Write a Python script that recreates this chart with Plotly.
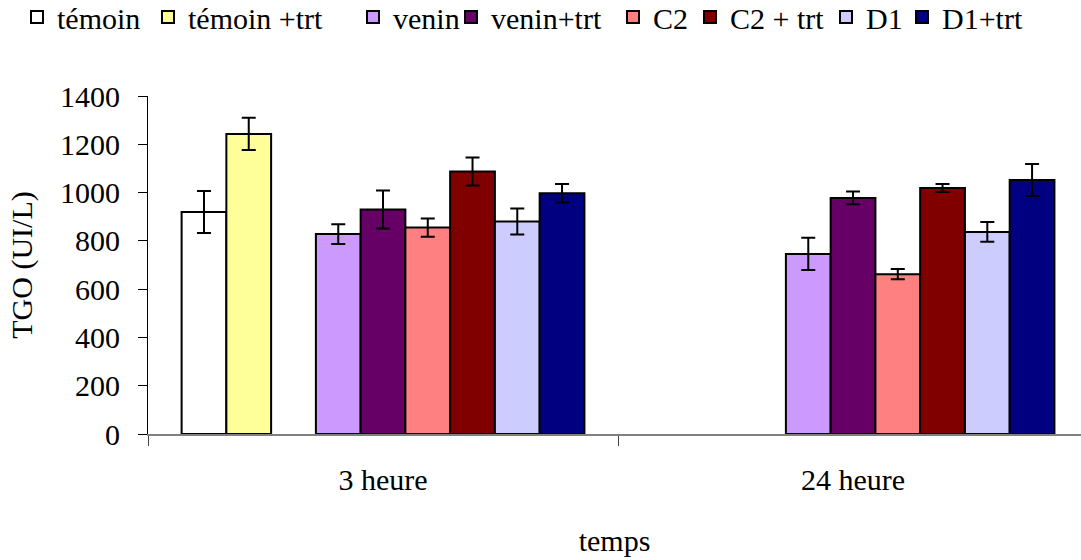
import plotly.graph_objects as go

# Sampling times (x categories)
temps = ["3 heure", "24 heure"]

# Series names, in legend order (" " is an empty spacer series)
series_names = ["témoin", "témoin +trt", " ", "venin", "venin+trt",
                "C2", "C2 + trt", "D1", "D1+trt"]

# Mean TGO (UI/L) per series at 3 h and 24 h
temoin = [920, None]
temoin_trt = [1243, None]
spacer = [None, None]
venin = [828, 746]
venin_trt = [930, 978]
c2 = [855, 662]
c2_trt = [1087, 1019]
d1 = [880, 837]
d1_trt = [997, 1052]

# Error bar half-widths
err_temoin = [87, 0]
err_temoin_trt = [67, 0]
err_spacer = [0, 0]
err_venin = [41, 67]
err_venin_trt = [79, 26]
err_c2 = [38, 21]
err_c2_trt = [58, 17]
err_d1 = [54, 41]
err_d1_trt = [38, 66]

values = [temoin, temoin_trt, spacer, venin, venin_trt, c2, c2_trt, d1, d1_trt]
errors = [err_temoin, err_temoin_trt, err_spacer, err_venin, err_venin_trt,
          err_c2, err_c2_trt, err_d1, err_d1_trt]
colors = ["#FFFFFF", "#FFFF99", "rgba(0,0,0,0)", "#CC99FF", "#660066",
          "#FF8080", "#800000", "#CCCCFF", "#000080"]

# Left pixel position of each legend entry along the top line
legend_left_px = [17, 148, None, 353, 451, 613, 690, 826, 902]

FONT = "Liberation Serif, Times New Roman, serif"
FS = 30
W, H = 1081, 560

fig = go.Figure()
legend_layouts = {}
k = 0
for name, vals, errs, col, lx in zip(series_names, values, errors, colors,
                                      legend_left_px):
    is_spacer = name.strip() == ""
    legend_id = None
    if not is_spacer:
        k += 1
        legend_id = "legend" if k == 1 else f"legend{k}"
        legend_layouts[legend_id] = dict(
            orientation="h", xref="container", yref="container",
            x=lx / W, xanchor="left", y=1 - 17 / H, yanchor="middle",
            font=dict(family=FONT, size=FS, color="black"),
            itemwidth=30, bgcolor="rgba(0,0,0,0)", borderwidth=0,
        )
    fig.add_trace(go.Bar(
        x=temps,
        y=vals,
        name=name,
        showlegend=not is_spacer,
        legend=legend_id if legend_id else "legend",
        marker=dict(color=col,
                    line=dict(color="rgba(0,0,0,0)" if is_spacer else "black",
                              width=2)),
        error_y=dict(type="data", array=errs, visible=not is_spacer,
                     color="black", thickness=2, width=7),
    ))

fig.update_layout(
    width=W, height=H,
    margin=dict(l=148, r=0, t=96, b=126),
    paper_bgcolor="white", plot_bgcolor="white",
    barmode="group", bargap=0.143, bargroupgap=0,
    font=dict(family=FONT, size=FS, color="black"),
    showlegend=True,
    xaxis=dict(
        type="category", range=[-0.5, 1.485],
        showline=True, linecolor="#808080", linewidth=2,
        ticks="outside", tickson="boundaries", ticklen=10,
        tickcolor="#404040", tickwidth=1,
        ticklabelstandoff=18,
        showgrid=False, zeroline=False,
        tickfont=dict(family=FONT, size=FS, color="black"),
        title=dict(text="temps", standoff=35,
                   font=dict(family=FONT, size=FS, color="black")),
    ),
    yaxis=dict(
        range=[0, 1400], tickvals=[0, 200, 400, 600, 800, 1000, 1200, 1400],
        showline=True, linecolor="black", linewidth=1,
        ticks="outside", ticklen=9, tickcolor="black", tickwidth=1,
        ticklabelstandoff=12,
        showgrid=False, zeroline=False,
        tickfont=dict(family=FONT, size=FS, color="black"),
        title=dict(text="TGO (UI/L)", standoff=18,
                   font=dict(family=FONT, size=FS, color="black")),
    ),
)
fig.update_layout(**legend_layouts)

fig.write_html("out.html")
